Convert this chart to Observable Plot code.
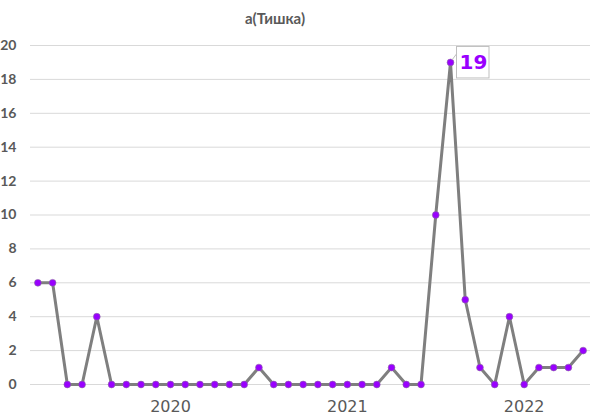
<!DOCTYPE html>
<html>
<head>
<meta charset="utf-8">
<script src="https://cdn.jsdelivr.net/npm/d3@7"></script>
<script src="https://cdn.jsdelivr.net/npm/@observablehq/plot@0.6"></script>
<style>
  html, body { margin: 0; padding: 0; background: #fff; }
  #wrap { position: relative; width: 614px; height: 418px; }
  #title { position: absolute; top: 9px; left: 0; width: 550px; text-align: center;
           font: bold 15px Lato, "DejaVu Sans", sans-serif; color: #595959; }
</style>
</head>
<body>
<div id="wrap"><div id="title">а(Тишка)</div></div>
<script>
const months = [
  "2019-10","2019-11","2019-12",
  "2020-01","2020-02","2020-03","2020-04","2020-05","2020-06","2020-07","2020-08","2020-09","2020-10","2020-11","2020-12",
  "2021-01","2021-02","2021-03","2021-04","2021-05","2021-06","2021-07","2021-08","2021-09","2021-10","2021-11","2021-12",
  "2022-01","2022-02","2022-03","2022-04","2022-05","2022-06","2022-07","2022-08","2022-09","2022-10","2022-11"
];
const values = [6,6,0,0,4,0,0,0,0,0,0,0,0,0,0,1,0,0,0,0,0,0,0,0,1,0,0,10,19,5,1,0,4,0,1,1,1,2];
const yearTickMonths = ["2020-07","2021-07","2022-07"];
const yearLabels = ["2020","2021","2022"];
const yTicks = [0,2,4,6,8,10,12,14,16,18,20];
const peakLabel = ["19"];

const data = months.map((m, i) => ({month: m, value: values[i]}));
const peakIdx = values.indexOf(d3.max(values));
const peak = [{month: months[peakIdx], value: values[peakIdx], label: peakLabel[0]}];

function callout(index, scales) {
  const x = scales.x(peak[0].month), y = scales.y(peak[0].value);
  const g = d3.create("svg:g");
  g.append("rect")
    .attr("x", x + 6.5).attr("y", y - 15.5)
    .attr("width", 32.5).attr("height", 31.5)
    .attr("fill", "#fff").attr("stroke", "#bfbfbf").attr("stroke-width", 1);
  g.append("path")
    .attr("d", `M${x + 2},${y - 2}L${x + 6.5},${y - 8}`)
    .attr("stroke", "#bfbfbf").attr("stroke-width", 1).attr("fill", "none");
  return g.node();
}

const chart = Plot.plot({
  width: 614, height: 418,
  marginLeft: 30, marginRight: 24, marginTop: 45, marginBottom: 34,
  style: {fontFamily: "Lato, 'DejaVu Sans', sans-serif", background: "transparent"},
  x: {type: "point", domain: months, padding: 0.5, round: false},
  y: {domain: [0, 20]},
  marks: [
    Plot.gridY(yTicks, {stroke: "#d9d9d9", strokeOpacity: 1, strokeWidth: 1}),
    Plot.axisY(yTicks, {tickSize: 0, tickPadding: 14, color: "#595959", fontWeight: "bold", fontSize: 14, label: null}),
    Plot.axisX(yearTickMonths, {tickSize: 0, tickPadding: 16, color: "#595959", fontSize: 16, fontFamily: "'DejaVu Sans', sans-serif",
      letterSpacing: "1px", tickFormat: m => yearLabels[yearTickMonths.indexOf(m)], label: null}),
    Plot.line(data, {x: "month", y: "value", stroke: "#7f7f7f", strokeWidth: 3}),
    Plot.dot(data, {x: "month", y: "value", r: 3.4, fill: "#9900ff", stroke: "#8a6aa0", strokeWidth: 0.6}),
    callout,
    Plot.text(peak, {x: "month", y: "value", text: "label", dx: 23, fill: "#9900ff", fontWeight: "bold", fontSize: 20, fontFamily: "'DejaVu Sans', sans-serif"})
  ]
});
chart.style.position = "absolute";
chart.style.left = "0";
chart.style.top = "0";
document.getElementById("wrap").appendChild(chart);
</script>
</body>
</html>
